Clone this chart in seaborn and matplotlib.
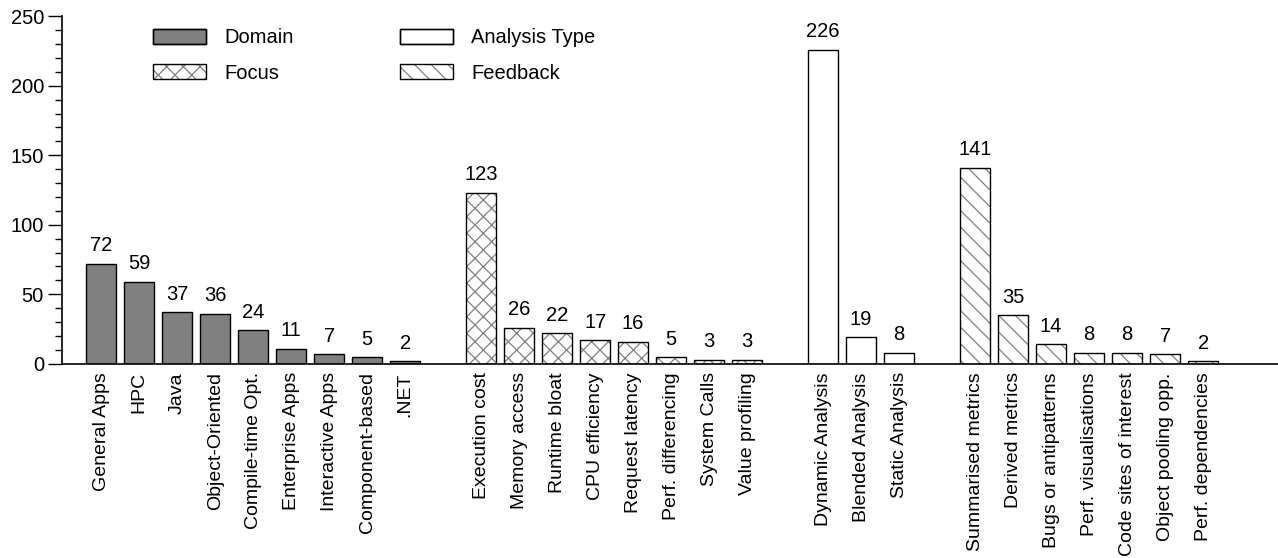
import pandas as pd
import numpy as np
import matplotlib
matplotlib.use('Agg')
import matplotlib.pyplot as plt
import seaborn as sns
from matplotlib.patches import Rectangle, Patch
from matplotlib.legend_handler import HandlerTuple
from matplotlib.ticker import MultipleLocator

domain_labels = ['General Apps', 'HPC', 'Java', 'Object-Oriented', 'Compile-time Opt.',
                 'Enterprise Apps', 'Interactive Apps', 'Component-based', '.NET']
domain_counts = [72, 59, 37, 36, 24, 11, 7, 5, 2]
focus_labels = ['Execution cost', 'Memory access', 'Runtime bloat', 'CPU efficiency',
                'Request latency', 'Perf. differencing', 'System Calls', 'Value profiling']
focus_counts = [123, 26, 22, 17, 16, 5, 3, 3]
analysis_labels = ['Dynamic Analysis', 'Blended Analysis', 'Static Analysis']
analysis_counts = [226, 19, 8]
feedback_labels = ['Summarised metrics', 'Derived metrics', 'Bugs or antipatterns',
                   'Perf. visualisations', 'Code sites of interest', 'Object pooling opp.',
                   'Perf. dependencies']
feedback_counts = [141, 35, 14, 8, 8, 7, 2]

groups = ['Domain', 'Focus', 'Analysis Type', 'Feedback']
group_data = [(domain_labels, domain_counts), (focus_labels, focus_counts),
              (analysis_labels, analysis_counts), (feedback_labels, feedback_counts)]

# one empty slot between groups
rows = []
pos = 0
for g, (labs, vals) in zip(groups, group_data):
    for lab, v in zip(labs, vals):
        rows.append({'pos': pos, 'label': lab, 'count': v, 'group': g})
        pos += 1
    pos += 1
df = pd.DataFrame(rows)

sns.set_style('ticks')
plt.rcParams['font.family'] = ['Liberation Sans', 'DejaVu Sans']
plt.rcParams['hatch.linewidth'] = 0.9
for k in ['text.color', 'axes.labelcolor', 'xtick.color', 'ytick.color', 'axes.edgecolor']:
    plt.rcParams[k] = 'black'

fs = 14.5
fig = plt.figure(figsize=(12.78, 5.58), dpi=100)
ax = fig.add_axes([0.0485, 0.348, 0.9515, 0.623])

grey = '#808080'
palette = {'Domain': grey, 'Focus': 'white', 'Analysis Type': 'white', 'Feedback': 'white'}
hatches = {'Domain': '', 'Focus': 'xx', 'Analysis Type': '', 'Feedback': '\\\\'}

sns.barplot(data=df, x='pos', y='count', hue='group', hue_order=groups, palette=palette,
            native_scale=True, dodge=False, width=0.8, saturation=1, legend=False, ax=ax)

handles = {}
for g, cont in zip(groups, ax.containers):
    h = hatches[g]
    for p in cont.patches:
        if h:
            p.set_hatch(h)
            p.set_edgecolor(grey)
            p.set_linewidth(0)
            ax.add_patch(Rectangle(p.get_xy(), p.get_width(), p.get_height(),
                                   fill=False, ec='black', lw=1.0, zorder=p.get_zorder() + 0.1))
        else:
            p.set_edgecolor('black')
            p.set_linewidth(1.0)
    ax.bar_label(cont, padding=6, fontsize=fs)
    fill = Patch(facecolor=palette[g], edgecolor=grey if h else 'black', hatch=h, lw=0 if h else 1.0)
    border = Patch(facecolor='none', edgecolor='black', lw=1.0)
    handles[g] = (fill, border)

ax.set_xticks(df['pos'])
ax.set_xticklabels(df['label'], rotation=90, fontsize=14)
ax.set_xlim(-1.03, pos - 1 + 0.97)
ax.set_ylim(0, 250)
ax.yaxis.set_major_locator(MultipleLocator(50))
ax.yaxis.set_minor_locator(MultipleLocator(10))
ax.tick_params(axis='y', which='major', length=10, width=1, labelsize=fs, pad=3)
ax.tick_params(axis='y', which='minor', length=5, width=1)
ax.tick_params(axis='x', length=0, pad=6)
ax.set_xlabel('')
ax.set_ylabel('')
sns.despine(ax=ax)
for s in ['left', 'bottom']:
    ax.spines[s].set_linewidth(1.2)

order = ['Domain', 'Focus', 'Analysis Type', 'Feedback']
ax.legend([handles[g] for g in order], order, ncol=2, frameon=False, fontsize=fs,
          loc='upper left', bbox_to_anchor=(0.06, 1.017), handlelength=2.63, handleheight=0.75,
          handletextpad=0.9, columnspacing=5.3, labelspacing=0.8,
          handler_map={tuple: HandlerTuple(ndivide=1, pad=0)})

fig.savefig('out.png', dpi=100)
